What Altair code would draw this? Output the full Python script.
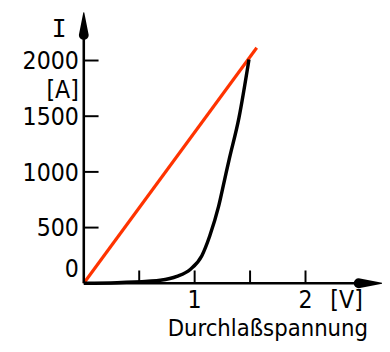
import altair as alt
import pandas as pd

# Diode forward characteristic (black curve)
volt = [0, 0.3, 0.58, 0.69, 0.84, 0.96, 1.065, 1.136, 1.216, 1.27, 1.31, 1.40, 1.49]
amp = [0, 5, 18, 27, 62, 124, 248, 425, 690, 929, 1106, 1487, 2009]
# Straight line (red)
line_v = [0, 1.56]
line_a = [0, 2115]

y_ticks = [500, 1000, 1500, 2000]
y_tick_labels = ["500", "1000", "1500", "2000"]
x_ticks = [0.5, 1.0, 1.5, 2.0]
x_label_vals = [1, 2]
x_labels = ["1", "2"]

X_MAX, Y_MAX = 2.69, 2430

FONT = "DejaVu Sans Condensed, DejaVu Sans"
FS = 25
W, H = 303, 275

xs = alt.Scale(domain=[0, X_MAX], nice=False, zero=False)
ys = alt.Scale(domain=[0, Y_MAX], nice=False, zero=False)

curve_df = pd.DataFrame({"V": volt, "I": amp})
red_df = pd.DataFrame({"V": line_v, "I": line_a})
one = alt.Data(values=[{}])

curve = alt.Chart(curve_df).mark_line(color="black", strokeWidth=3.5, interpolate="monotone", clip=False).encode(
    x=alt.X("V:Q", scale=xs, axis=None), y=alt.Y("I:Q", scale=ys, axis=None))
red = alt.Chart(red_df).mark_line(color="#ff3300", strokeWidth=3.2, clip=False).encode(
    x=alt.X("V:Q", scale=xs, axis=None), y=alt.Y("I:Q", scale=ys, axis=None))

vaxis = alt.Chart(one).mark_rule(color="black", strokeWidth=2.6).encode(
    x=alt.value(0), y=alt.value(8), y2=alt.value(H))
haxis = alt.Chart(one).mark_rule(color="black", strokeWidth=2.6).encode(
    x=alt.value(0), x2=alt.value(W - 8), y=alt.value(H))

# arrow heads as tapered trails (tip width 0, base width 10 px)
varrow_df = pd.DataFrame({"V": [0, 0], "I": [Y_MAX, Y_MAX - 200], "w": [0, 10], "o": [0, 1]})
harrow_df = pd.DataFrame({"V": [X_MAX, X_MAX - 0.21], "I": [0, 0], "w": [0, 10], "o": [0, 1]})
varrow = alt.Chart(varrow_df).mark_trail(color="black", clip=False).encode(
    x=alt.X("V:Q", scale=xs, axis=None), y=alt.Y("I:Q", scale=ys, axis=None),
    size=alt.Size("w:Q", scale=None, legend=None), order="o:Q")
harrow = alt.Chart(harrow_df).mark_trail(color="black", clip=False).encode(
    x=alt.X("V:Q", scale=xs, axis=None), y=alt.Y("I:Q", scale=ys, axis=None),
    size=alt.Size("w:Q", scale=None, legend=None), order="o:Q")

ytick_df = pd.DataFrame({"I": y_ticks, "lab": y_tick_labels})
yticks = alt.Chart(ytick_df).mark_rule(color="black", strokeWidth=2).encode(
    y=alt.Y("I:Q", scale=ys, axis=None), x=alt.value(0), x2=alt.value(15))
ylabels = alt.Chart(ytick_df).mark_text(align="right", baseline="alphabetic", font=FONT, fontSize=FS, dx=-5, dy=9).encode(
    y=alt.Y("I:Q", scale=ys, axis=None), x=alt.value(0), text="lab:N")
zero_lab = alt.Chart(one).mark_text(align="right", baseline="alphabetic", font=FONT, fontSize=FS).encode(
    x=alt.value(-5), y=alt.value(H - 6), text=alt.value("0"))

xtick_df = pd.DataFrame({"V": x_ticks})
xticks = alt.Chart(xtick_df).mark_rule(color="black", strokeWidth=2).encode(
    x=alt.X("V:Q", scale=xs, axis=None), y=alt.value(H - 13), y2=alt.value(H))
xlab_df = pd.DataFrame({"V": x_label_vals, "lab": x_labels})
xlabels = alt.Chart(xlab_df).mark_text(align="center", baseline="alphabetic", font=FONT, fontSize=FS).encode(
    x=alt.X("V:Q", scale=xs, axis=None), y=alt.value(H + 25), text="lab:N")

annos = []
for txt, px, py, al, fs, fnt in [("I", -25, 25, "center", FS, "DejaVu Sans Mono"),
                                 ("[A]", -5, 87, "right", FS, FONT),
                                 ("[V]", 267, H + 25, "center", FS, FONT),
                                 ("Durchlaßspannung", 187, H + 54, "center", 24, FONT)]:
    annos.append(alt.Chart(one).mark_text(align=al, baseline="alphabetic", font=fnt, fontSize=fs).encode(
        x=alt.value(px), y=alt.value(py), text=alt.value(txt)))

chart = alt.layer(red, curve, vaxis, haxis, yticks, ylabels, zero_lab, xticks, xlabels, *annos, varrow, harrow).properties(
    width=W, height=H,
    autosize=alt.AutoSizeParams(type="none"),
    padding={"left": 77, "top": 2, "right": 0, "bottom": 59},
).configure_view(stroke=None)

chart.save("out.html", embed_options={"renderer": "svg", "actions": False})
